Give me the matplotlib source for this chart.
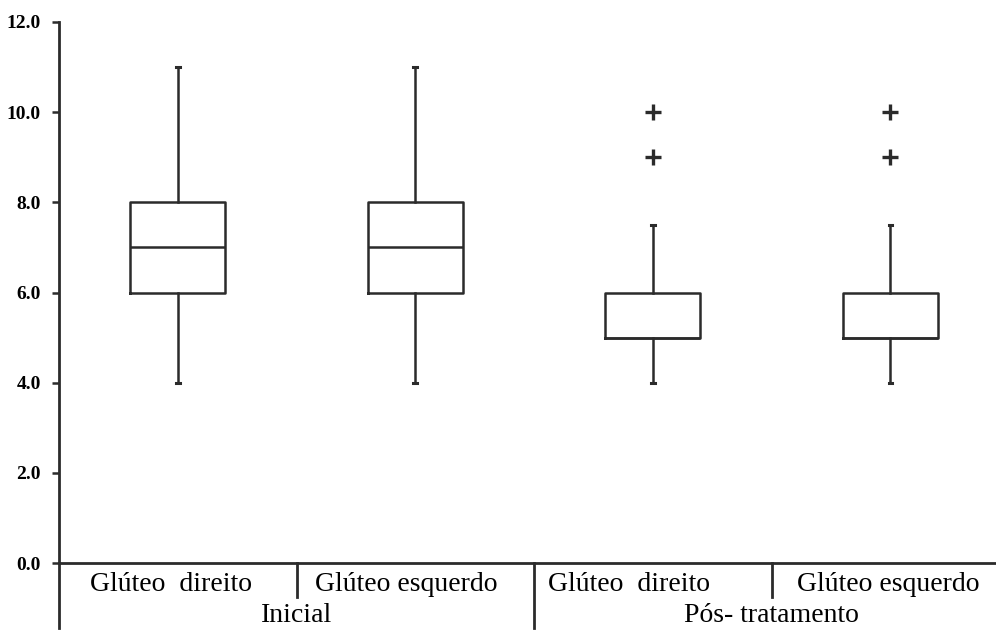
import matplotlib.pyplot as plt

# box statistics per group (pain score)
groups = ["Inicial", "Pós- tratamento"]
sides = ["Glúteo  direito", "Glúteo esquerdo", "Glúteo  direito", "Glúteo esquerdo"]
q1 = [6.0, 6.0, 5.0, 5.0]
med = [7.0, 7.0, 5.0, 5.0]
q3 = [8.0, 8.0, 6.0, 6.0]
whislo = [4.0, 4.0, 4.0, 4.0]
whishi = [11.0, 11.0, 7.5, 7.5]
fliers = [[], [], [9.0, 10.0], [9.0, 10.0]]
yticks = [0, 2, 4, 6, 8, 10, 12]

ink = "#2b2b2b"
serif = ["Liberation Serif", "DejaVu Serif"]

stats = []
for i in range(len(sides)):
    stats.append(dict(q1=q1[i], med=med[i], q3=q3[i], whislo=whislo[i],
                      whishi=whishi[i], fliers=fliers[i]))

fig = plt.figure(figsize=(9.96, 6.35), dpi=100)
ax = fig.add_axes([59 / 996, 1 - 563 / 635, 1 - 59 / 996, (563 - 22) / 635])

line = dict(color=ink, linewidth=1.8)
ax.bxp(stats, positions=range(len(sides)), widths=0.40, capwidths=0.015,
       boxprops=line, medianprops=line, whiskerprops=line,
       capprops=dict(color=ink, linewidth=2.2),
       flierprops=dict(marker="+", markersize=11, markeredgewidth=2.4,
                       markeredgecolor=ink, linestyle="none"),
       manage_ticks=False)

ax.set_xlim(-0.5, 3.445)
ax.set_ylim(0, 12)
ax.set_yticks(yticks)
ax.set_yticklabels([f"{v:.1f}" for v in yticks], fontfamily=serif,
                   fontweight="bold", fontsize=14)
ax.tick_params(axis="y", direction="out", length=5, width=1.8, color=ink, pad=8)
ax.set_xticks([])

for s in ["top", "right"]:
    ax.spines[s].set_visible(False)
for s in ["left", "bottom"]:
    ax.spines[s].set_linewidth(2.0)
    ax.spines[s].set_color(ink)

# category separators and extended left axis below the x axis
trans = ax.get_xaxis_transform()
ax.plot([-0.5, -0.5], [0, -0.12], transform=trans, color=ink, lw=2.0, clip_on=False)
ax.plot([1.5, 1.5], [0, -0.12], transform=trans, color=ink, lw=2.0, clip_on=False)
for x in [0.5, 2.5]:
    ax.plot([x, x], [0, -0.063], transform=trans, color=ink, lw=2.0, clip_on=False)

label_shift = [-0.03, -0.04, -0.1, -0.01]
for i, name in enumerate(sides):
    ax.text(i + label_shift[i], -0.04, name, transform=trans, ha="center",
            va="center", fontsize=20, fontfamily=serif, color="black")
for g, name in enumerate(groups):
    ax.text(2 * g + 0.5, -0.097, name, transform=trans, ha="center",
            va="center", fontsize=20, fontfamily=serif, color="black")

fig.savefig("out.png", dpi=100)
